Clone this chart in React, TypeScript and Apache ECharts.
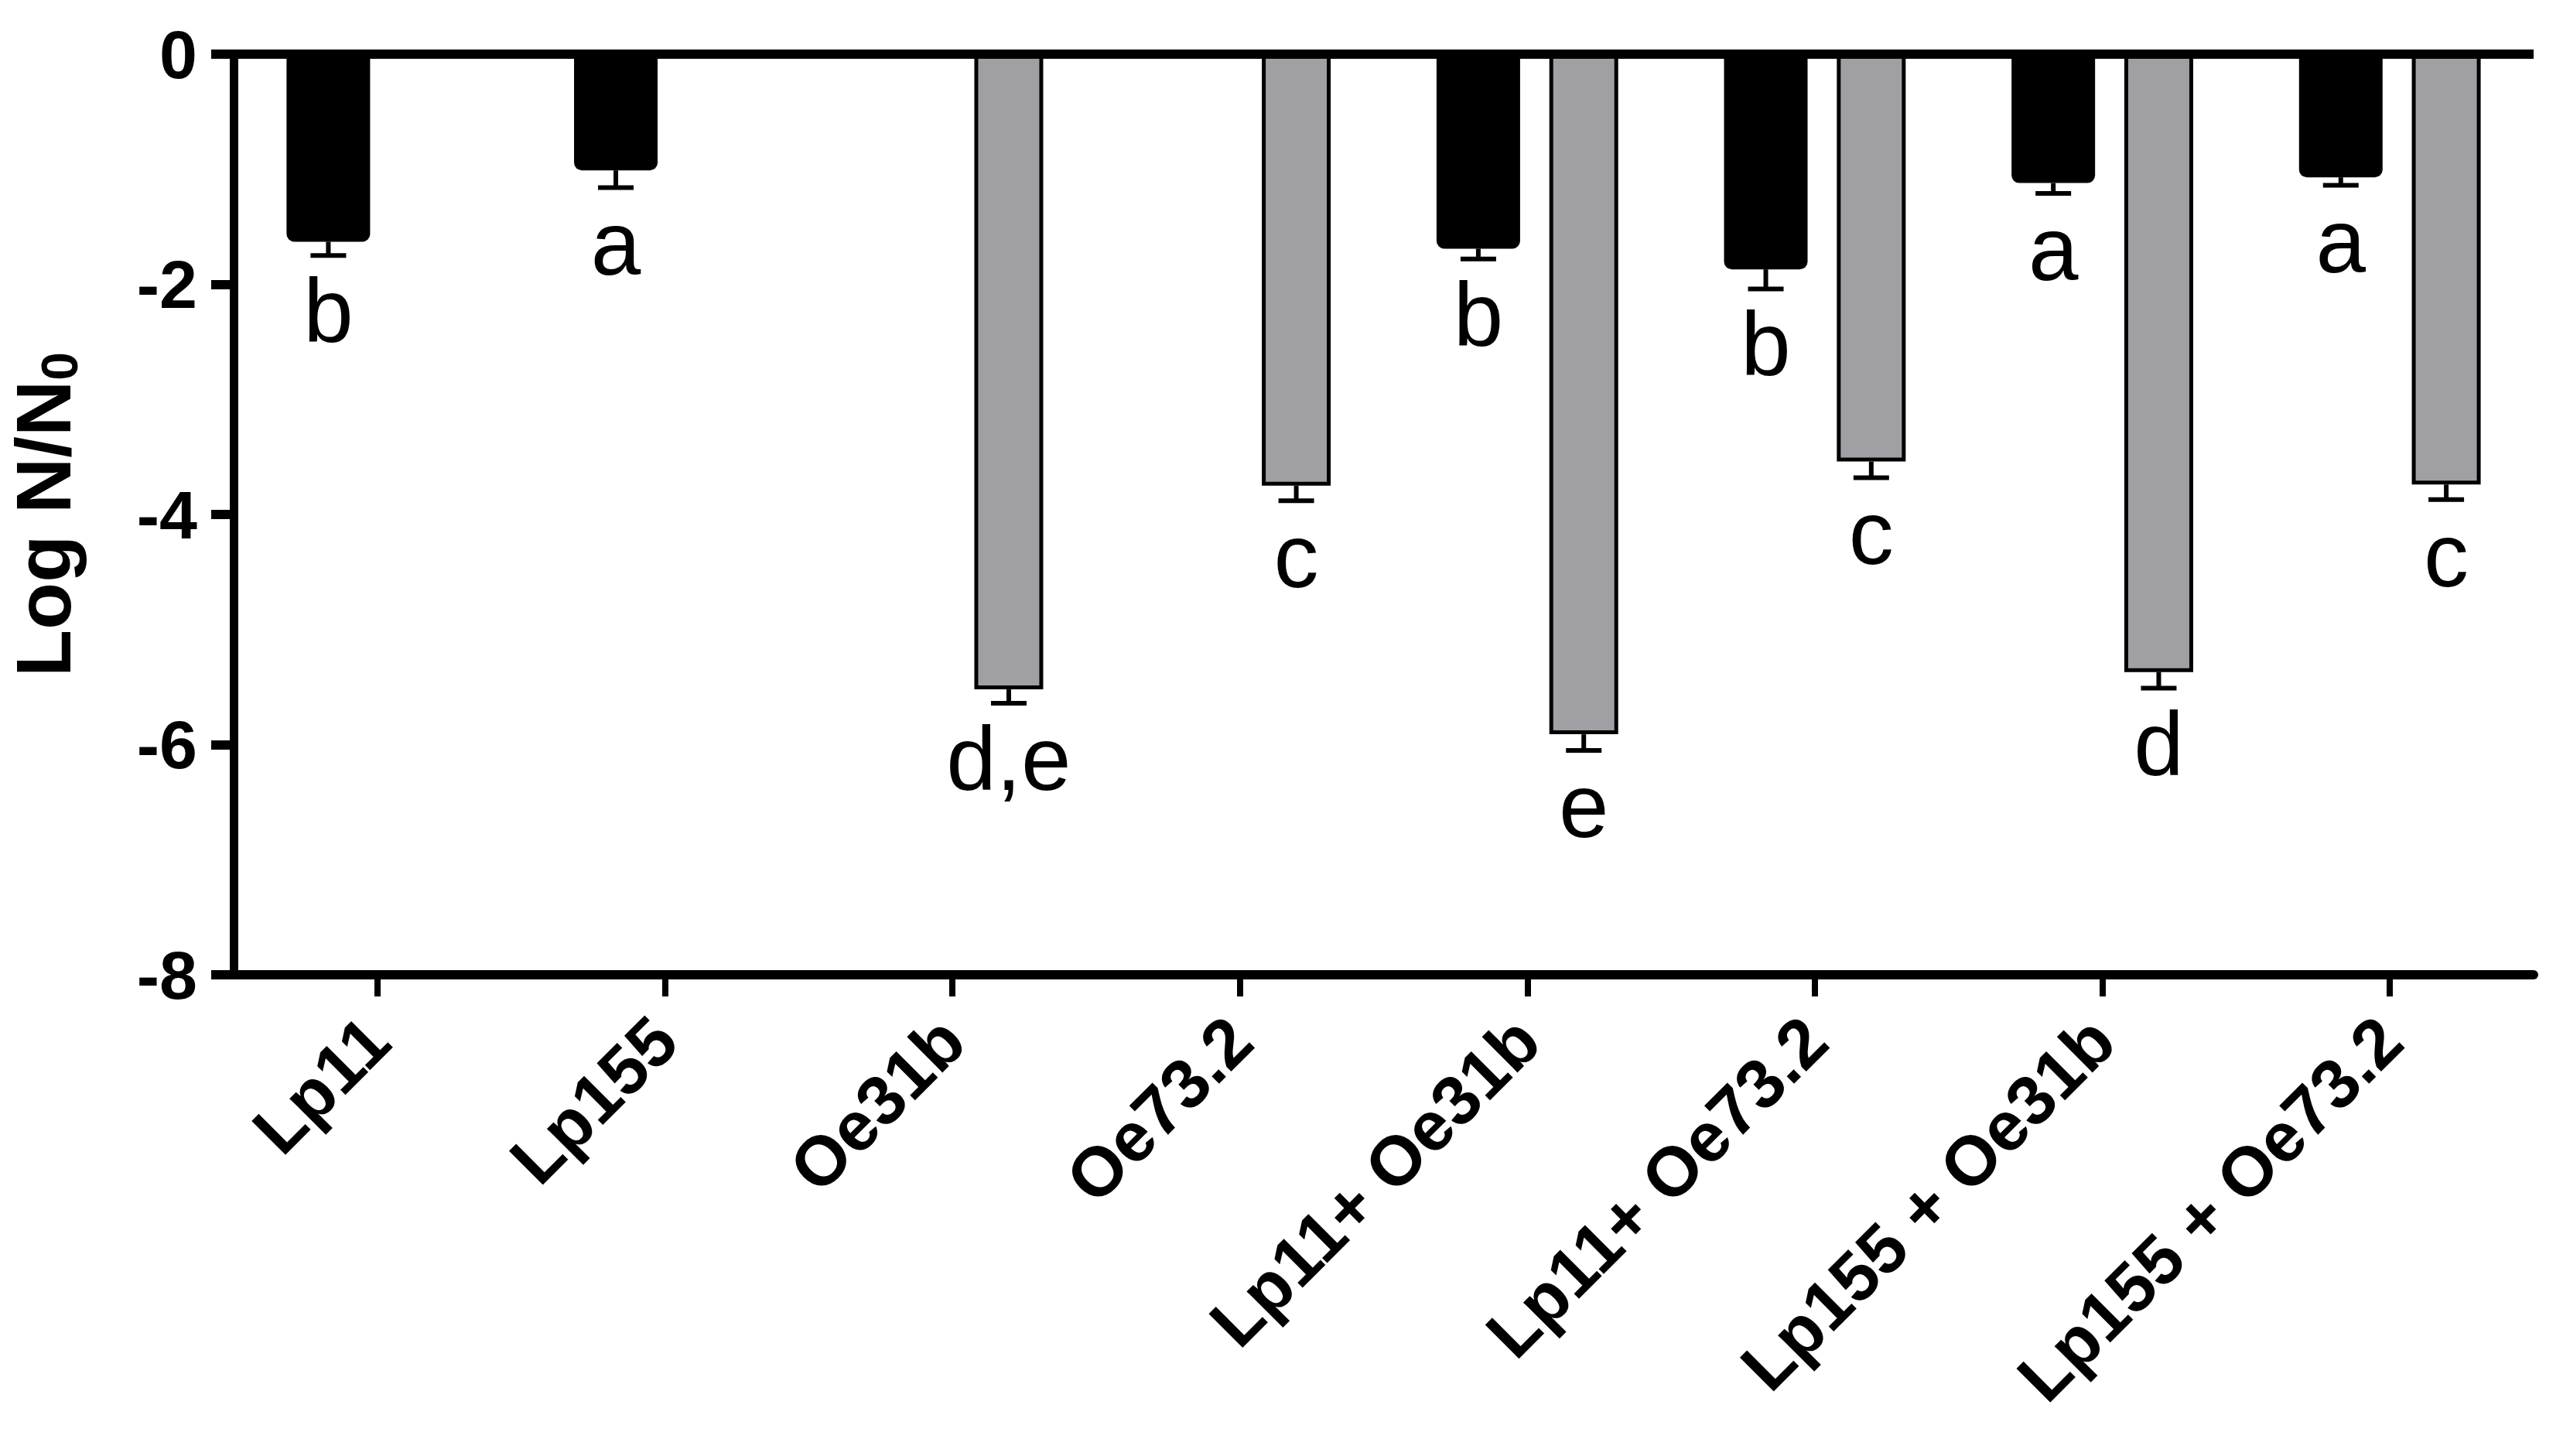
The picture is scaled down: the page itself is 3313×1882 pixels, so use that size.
import React, { useEffect, useRef } from "react";
import * as echarts from "echarts";

// ---- data ----
const categories = [
  "Lp11",
  "Lp155",
  "Oe31b",
  "Oe73.2",
  "Lp11+ Oe31b",
  "Lp11+ Oe73.2",
  "Lp155 + Oe31b",
  "Lp155 + Oe73.2",
];
const lpMeans = [-1.63, -1.01, null, null, -1.69, -1.87, -1.12, -1.07];
const lpErrors = [0.12, 0.15, null, null, 0.09, 0.17, 0.09, 0.07];
const lpLetters = ["b", "a", null, null, "b", "b", "a", "a"];
const oeMeans = [null, null, -5.52, -3.75, -5.91, -3.54, -5.37, -3.74];
const oeErrors = [null, null, 0.12, 0.13, 0.14, 0.14, 0.14, 0.13];
const oeLetters = [null, null, "d,e", "c", "e", "c", "d", "c"];
const yMin = -8;
const yMax = 0;
const yInterval = 2;

// ---- layout/style constants ----
const W = 3313;
const H = 1882;
const FONT = "'Liberation Sans', Arial, Helvetica, sans-serif";
const BW_BLACK = 108;
const BW_GRAY = 89;
const GAP_PCT = 0.35;

export default function App() {
  const ref = useRef<HTMLDivElement>(null);

  useEffect(() => {
    if (!ref.current) return;
    const chart = echarts.init(ref.current, null, { renderer: "svg" });

    // replicate ECharts bar offsets
    const total = BW_BLACK * (1 + GAP_PCT) + BW_GRAY;
    const offBlack = -total / 2 + BW_BLACK / 2;
    const offGray = -total / 2 + BW_BLACK * (1 + GAP_PCT) + BW_GRAY / 2;

    const buildData = (means: (number | null)[], errs: (number | null)[], letters: (string | null)[]) =>
      means
        .map((m, i) => (m === null ? null : [i, m, errs[i] as number, letters[i] as string]))
        .filter((d) => d !== null) as any[];

    const makeRender = (data: any[], offset: number) => (params: any, api: any) => {
      const ci = api.value(0);
      const mean = api.value(1);
      const err = api.value(2);
      const letter = data[params.dataIndex][3];
      const p = api.coord([ci, mean]);
      const pe = api.coord([ci, mean - err]);
      const x = p[0] + offset;
      const yEnd = pe[1];
      return {
        type: "group",
        children: [
          {
            type: "line",
            shape: { x1: x, y1: p[1], x2: x, y2: yEnd },
            style: { stroke: "#000", lineWidth: 6 },
          },
          {
            type: "line",
            shape: { x1: x - 23, y1: yEnd, x2: x + 23, y2: yEnd },
            style: { stroke: "#000", lineWidth: 6 },
          },
          {
            type: "text",
            style: {
              text: letter,
              x: x,
              y: yEnd + 14,
              align: "center",
              verticalAlign: "top",
              fontSize: 116,
              fontFamily: FONT,
              fill: "#000",
            },
          },
        ],
      };
    };

    const lpData = buildData(lpMeans, lpErrors, lpLetters);
    const oeData = buildData(oeMeans, oeErrors, oeLetters);

    chart.setOption({
      animation: false,
      backgroundColor: "#ffffff",
      textStyle: { fontFamily: FONT },
      grid: {
        left: 302,
        right: 38,
        top: 70,
        bottom: 622,
        containLabel: false,
        outerBoundsMode: "none",
      },
      xAxis: {
        type: "category",
        data: categories,
        position: "bottom",
        axisLine: { onZero: false, lineStyle: { color: "#000", width: 12 } },
        axisTick: { show: true, alignWithLabel: true, length: 28, lineStyle: { color: "#000", width: 8 } },
        axisLabel: {
          interval: 0,
          rotate: 45,
          margin: 70,
          fontSize: 90,
          fontWeight: "bold",
          color: "#000",
          fontFamily: FONT,
        },
        splitLine: { show: false },
      },
      yAxis: {
        type: "value",
        min: yMin,
        max: yMax,
        interval: yInterval,
        name: "{a|Log N/N}{s|0}",
        nameLocation: "middle",
        nameGap: 192,
        nameRotate: 90,
        nameTextStyle: {
          fontSize: 100,
          fontWeight: "bold",
          color: "#000",
          fontFamily: FONT,
          rich: {
            a: {
              fontSize: 100,
              lineHeight: 104,
              fontWeight: "bold",
              color: "#000",
              fontFamily: FONT,
              verticalAlign: "top",
            },
            s: {
              fontSize: 66,
              lineHeight: 66,
              fontWeight: "bold",
              color: "#000",
              fontFamily: FONT,
              verticalAlign: "bottom",
              padding: [52, 0, 0, 0],
            },
          },
        },
        axisLine: { show: true, lineStyle: { color: "#000", width: 11 } },
        axisTick: { show: true, length: 29, lineStyle: { color: "#000", width: 12 } },
        axisLabel: { fontSize: 88, fontWeight: "bold", color: "#000", margin: 47, fontFamily: FONT },
        splitLine: { show: false },
      },
      series: [
        {
          type: "bar",
          name: "Lp",
          data: lpMeans.map((v) => (v === null ? "-" : v)),
          barWidth: BW_BLACK,
          barGap: GAP_PCT * 100 + "%",
          itemStyle: { color: "#000", borderRadius: [0, 0, 10, 10] },
          markLine: {
            silent: true,
            symbol: ["none", "none"],
            label: { show: false },
            lineStyle: { color: "#000", width: 12, type: "solid" },
            data: [{ yAxis: 0 }],
          },
        },
        {
          type: "bar",
          name: "Oe",
          data: oeMeans.map((v) => (v === null ? "-" : v)),
          barWidth: BW_GRAY,
          barGap: GAP_PCT * 100 + "%",
          itemStyle: { color: "#a0a0a4", borderColor: "#000", borderWidth: 5 },
        },
        {
          type: "custom",
          name: "LpErr",
          data: lpData,
          renderItem: makeRender(lpData, offBlack),
          clip: false,
          z: 5,
        },
        {
          type: "custom",
          name: "OeErr",
          data: oeData,
          renderItem: makeRender(oeData, offGray),
          clip: false,
          z: 5,
        },
      ],
    });

    return () => chart.dispose();
  }, []);

  return (
    <div
      ref={ref}
      style={{ position: "fixed", left: 0, top: 0, width: W, height: H, background: "#fff" }}
    />
  );
}
